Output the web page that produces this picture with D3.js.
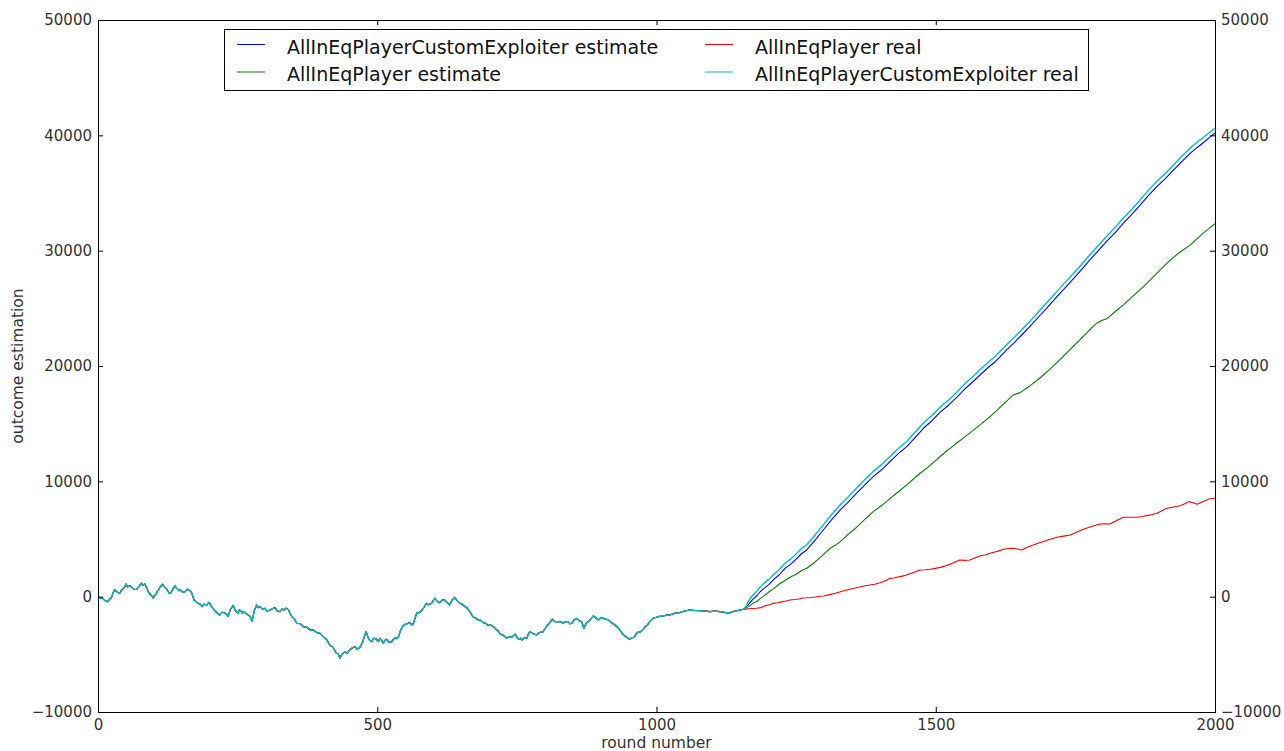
<!DOCTYPE html>
<html>
<head>
<meta charset="utf-8">
<script src="https://cdn.jsdelivr.net/npm/d3@7"></script>
<style>
  html, body { margin: 0; padding: 0; background: #fff; }
  svg { display: block; font-family: "DejaVu Sans", sans-serif; }
  .tick text { fill: #333; font-size: 15px; }
  .tick line { stroke: #000; }
</style>
</head>
<body>
<svg id="chart" width="1284" height="751"></svg>
<script>
// Common history of all four series (rounds 0..1155), [round, outcome]
const sharedPath = [
  [0,0],[4,-120],[8,-150],[13,-350],[18,-430],[21,-200],[24,-100],[27,350],[30,580],[35,380],[39,290],[42,550],[45,700],
  [48,850],[50,1100],[53,850],[55,900],[58,950],[60,815],[65,620],[69,640],[72,820],[74,900],[76,1100],[78,1160],[81,980],
  [84,1100],[86,850],[88,700],[90,420],[92,290],[96,80],[99,-140],[101,100],[104,200],[106,450],[108,580],[112,900],
  [116,1075],[118,880],[120,800],[122,720],[124,580],[127,330],[130,290],[134,650],[138,930],[140,760],[142,700],[145,520],
  [147,580],[152,380],[156,435],[160,650],[165,520],[168,300],[172,-290],[176,-450],[180,-600],[183,-650],[186,-870],
  [190,-650],[195,-720],[198,-500],[200,-580],[204,-900],[208,-1150],[213,-1400],[218,-1590],[222,-1350],[227,-1400],
  [230,-1550],[233,-1700],[237,-1100],[242,-780],[246,-1200],[251,-1450],[253,-1150],[255,-1200],[258,-1400],[260,-1300],
  [265,-1450],[269,-1590],[272,-1700],[276,-2110],[280,-1200],[284,-720],[287,-950],[290,-870],[295,-1100],[299,-1010],
  [303,-1250],[308,-1150],[312,-1050],[317,-950],[321,-1250],[326,-1300],[330,-1050],[333,-1150],[337,-1000],[341,-1150],
  [344,-1450],[347,-1730],[351,-1900],[356,-2310],[362,-2350],[368,-2600],[374,-2650],[380,-2890],[386,-2900],[392,-3120],
  [397,-3150],[403,-3470],[409,-3700],[415,-4190],[421,-4400],[427,-4910],[430,-4950],[433,-5340],[437,-5000],[442,-4770],
  [446,-4900],[451,-4620],[455,-4450],[460,-4330],[464,-4550],[469,-4400],[474,-3900],[480,-3040],[485,-3700],[490,-3900],
  [494,-3600],[499,-3700],[502,-3900],[505,-3610],[508,-3800],[511,-4050],[514,-3750],[517,-3700],[521,-3950],[526,-3900],
  [529,-3700],[532,-3530],[535,-3650],[538,-3470],[542,-2900],[547,-2450],[553,-2350],[559,-2250],[562,-2450],[565,-2310],
  [568,-1800],[571,-1390],[575,-1400],[580,-1160],[584,-900],[588,-580],[592,-700],[597,-580],[600,-350],[603,-140],
  [607,-400],[612,-520],[616,-300],[621,-290],[625,-500],[629,-720],[634,-300],[639,-60],[643,-350],[648,-580],[652,-650],
  [657,-870],[660,-950],[663,-1100],[667,-1400],[671,-1730],[676,-1850],[681,-2020],[685,-2050],[690,-2250],[694,-2300],
  [699,-2500],[703,-2450],[708,-2600],[711,-2750],[714,-2890],[717,-3000],[720,-3240],[726,-3350],[732,-3610],[736,-3450],
  [741,-3530],[744,-3400],[747,-3240],[750,-3500],[753,-3700],[756,-3600],[759,-3760],[764,-3550],[768,-3610],[770,-3300],
  [773,-3030],[779,-3200],[785,-3320],[791,-3100],[797,-3030],[800,-2800],[803,-2600],[808,-2300],[814,-1960],[817,-2150],
  [821,-2170],[827,-2150],[833,-2310],[837,-2150],[842,-2170],[845,-2350],[848,-2310],[852,-2050],[857,-1880],[862,-2100],
  [866,-2170],[868,-2450],[870,-2740],[874,-2300],[878,-2170],[883,-1900],[887,-1670],[892,-1850],[896,-2020],[900,-1850],
  [905,-1880],[910,-1950],[914,-2020],[918,-2200],[923,-2370],[927,-2500],[932,-2740],[936,-3000],[941,-3320],[946,-3500],
  [952,-3700],[956,-3550],[960,-3530],[964,-3200],[968,-3030],[971,-3050],[975,-2890],[980,-2600],[984,-2450],[988,-2150],
  [991,-2020],[995,-1850],[1000,-1790],[1006,-1700],[1012,-1680],[1018,-1600],[1024,-1590],[1032,-1450],[1041,-1390],
  [1050,-1250],[1060,-1160],[1069,-1200],[1078,-1220],[1087,-1250],[1096,-1300],[1105,-1250],[1114,-1300],[1121,-1350],
  [1129,-1440],[1136,-1300],[1144,-1220],[1150,-1150],[1155,-1100]
];

// Per-series continuation after round 1155
const exploiterEstimateTail = [
  [1165,-650],[1172,-250],[1180,100],[1186,450],[1192,700],[1201,1050],[1210,1500],[1220,1900],[1230,2450],[1240,2800],
  [1250,3250],[1259,3700],[1269,4050],[1284,4900],[1299,5800],[1314,6700],[1329,7520],[1343,8200],[1358,8950],[1373,9700],
  [1388,10410],[1403,11000],[1418,11700],[1433,12400],[1448,13010],[1463,13800],[1478,14600],[1493,15250],[1508,16000],
  [1523,16600],[1538,17300],[1553,18050],[1568,18700],[1582,19350],[1597,20000],[1606,20350],[1615,20800],[1627,21400],
  [1642,22100],[1657,22840],[1672,23600],[1687,24400],[1702,25200],[1717,26020],[1732,26800],[1747,27600],[1761,28350],
  [1776,29200],[1791,30000],[1806,30800],[1821,31550],[1836,32380],[1851,33150],[1866,33950],[1881,34800],[1896,35560],
  [1911,36250],[1926,37000],[1941,37750],[1956,38460],[1968,38950],[1980,39400],[1990,39800],[2000,40200]
];
const eqPlayerEstimateTail = [
  [1165,-850],[1172,-600],[1180,-400],[1186,-150],[1192,50],[1201,400],[1210,700],[1220,1100],[1230,1400],[1240,1700],
  [1250,1950],[1259,2250],[1269,2460],[1281,2900],[1293,3380],[1302,3800],[1311,4200],[1320,4450],[1329,4770],[1343,5400],
  [1358,6000],[1373,6700],[1388,7370],[1403,7900],[1418,8500],[1433,9100],[1448,9690],[1460,10200],[1472,10700],
  [1484,11150],[1496,11650],[1508,12150],[1520,12650],[1528,12950],[1537,13300],[1552,13850],[1568,14460],[1582,15000],
  [1597,15610],[1606,16000],[1615,16420],[1627,16950],[1639,17490],[1651,17690],[1668,18250],[1686,18940],[1704,19700],
  [1722,20530],[1740,21400],[1758,22260],[1773,23000],[1788,23710],[1797,23950],[1806,24090],[1821,24700],[1836,25300],
  [1854,26100],[1872,26890],[1893,27900],[1914,28920],[1935,29800],[1956,30500],[1967,31000],[1979,31520],[1990,31950],
  [2000,32330]
];
const eqPlayerRealTail = [
  [1165,-1050],[1179,-1010],[1187,-950],[1194,-800],[1202,-700],[1209,-580],[1217,-530],[1224,-450],[1232,-380],[1239,-290],
  [1247,-250],[1255,-200],[1262,-120],[1270,-100],[1278,-70],[1285,-30],[1292,30],[1299,60],[1310,180],[1320,300],
  [1331,450],[1341,580],[1350,680],[1360,800],[1371,920],[1382,1010],[1391,1080],[1400,1200],[1409,1350],[1418,1590],
  [1425,1620],[1432,1700],[1440,1780],[1448,1880],[1460,2100],[1472,2310],[1481,2330],[1490,2380],[1499,2450],[1508,2540],
  [1516,2650],[1525,2800],[1534,2980],[1543,3180],[1552,3150],[1561,3180],[1570,3350],[1579,3530],[1588,3620],[1597,3760],
  [1606,3880],[1615,3990],[1621,4110],[1628,4150],[1636,4200],[1645,4150],[1654,4050],[1662,4250],[1670,4400],[1678,4550],
  [1686,4680],[1701,4920],[1717,5150],[1729,5250],[1741,5350],[1752,5580],[1764,5840],[1779,6080],[1794,6300],[1803,6320],
  [1812,6300],[1824,6600],[1836,6890],[1848,6880],[1860,6890],[1870,6950],[1880,7050],[1888,7130],[1896,7230],[1905,7450],
  [1914,7670],[1926,7780],[1938,7890],[1946,8050],[1953,8240],[1961,8150],[1968,8010],[1979,8250],[1989,8470],[2000,8560]
];
const exploiterRealTail = [
  [1160,-900],[1165,-350],[1172,100],[1180,500],[1186,850],[1192,1150],[1201,1500],[1210,1950],[1220,2350],[1230,2900],
  [1240,3250],[1250,3700],[1259,4150],[1269,4500],[1284,5350],[1299,6250],[1314,7150],[1329,7970],[1343,8650],[1358,9400],
  [1373,10150],[1388,10860],[1403,11450],[1418,12150],[1433,12850],[1448,13460],[1463,14250],[1478,15050],[1493,15700],
  [1508,16450],[1523,17050],[1538,17750],[1553,18500],[1568,19150],[1582,19800],[1597,20450],[1606,20800],[1615,21250],
  [1627,21850],[1642,22550],[1657,23290],[1672,24050],[1687,24850],[1702,25650],[1717,26470],[1732,27250],[1747,28050],
  [1761,28800],[1776,29650],[1791,30450],[1806,31250],[1821,32000],[1836,32830],[1851,33600],[1866,34400],[1881,35250],
  [1896,36010],[1911,36700],[1926,37450],[1941,38200],[1956,38910],[1968,39400],[1980,39850],[1990,40250],[2000,40640]
];

const seriesNames = [
  "AllInEqPlayerCustomExploiter estimate",
  "AllInEqPlayer estimate",
  "AllInEqPlayer real",
  "AllInEqPlayerCustomExploiter real"
];
const seriesColors = ["#0000ff", "#008000", "#ff0000", "#00bfbf"];
const seriesWidths = [1.1, 1.1, 1.1, 1.4];
const seriesTails = [exploiterEstimateTail, eqPlayerEstimateTail, eqPlayerRealTail, exploiterRealTail];

const xTicks = [0, 500, 1000, 1500, 2000];
const yTicks = [-10000, 0, 10000, 20000, 30000, 40000, 50000];
const xLabel = "round number";
const yLabel = "outcome estimation";

// Layout
const plot = { left: 98, right: 1215, top: 20, bottom: 712 };
const svg = d3.select("#chart");

const x = d3.scaleLinear().domain([0, 2000]).range([plot.left, plot.right]);
const y = d3.scaleLinear().domain([-10000, 50000]).range([plot.bottom, plot.top]);

// Series lines
const line = d3.line().x(d => x(d[0])).y(d => y(d[1]));
svg.append("clipPath").attr("id", "plotclip")
  .append("rect").attr("x", plot.left).attr("y", plot.top)
  .attr("width", plot.right - plot.left).attr("height", plot.bottom - plot.top);

const lines = svg.append("g").attr("clip-path", "url(#plotclip)");
seriesTails.forEach((tail, i) => {
  lines.append("path")
    .datum(sharedPath.concat(tail))
    .attr("fill", "none")
    .attr("stroke", seriesColors[i])
    .attr("stroke-width", seriesWidths[i])
    .attr("stroke-linejoin", "round")
    .attr("d", line);
});

// Axes with inward ticks on all four sides
const fmt = d3.format("d");
svg.append("g").attr("transform", `translate(0,${plot.bottom})`)
  .call(d3.axisBottom(x).tickValues(xTicks).tickFormat(fmt).tickSizeInner(-5).tickSizeOuter(0).tickPadding(7));
svg.append("g").attr("transform", `translate(0,${plot.top})`)
  .call(d3.axisTop(x).tickValues(xTicks).tickFormat("").tickSizeInner(-5).tickSizeOuter(0));
svg.append("g").attr("transform", `translate(${plot.left},0)`)
  .call(d3.axisLeft(y).tickValues(yTicks).tickFormat(fmt).tickSizeInner(-5).tickSizeOuter(0).tickPadding(6));
svg.append("g").attr("transform", `translate(${plot.right},0)`)
  .call(d3.axisRight(y).tickValues(yTicks).tickFormat(fmt).tickSizeInner(-5).tickSizeOuter(0).tickPadding(6));
svg.selectAll(".domain").remove();
svg.selectAll(".tick text").attr("font-family", "DejaVu Sans").attr("font-size", 15);

// Frame
svg.append("rect")
  .attr("x", plot.left).attr("y", plot.top)
  .attr("width", plot.right - plot.left).attr("height", plot.bottom - plot.top)
  .attr("fill", "none").attr("stroke", "#000").attr("stroke-width", 1)
  .attr("shape-rendering", "crispEdges");

// Axis titles
svg.append("text")
  .attr("x", (plot.left + plot.right) / 2).attr("y", 748)
  .attr("text-anchor", "middle").attr("font-size", 15.5).attr("fill", "#333")
  .text(xLabel);
svg.append("text")
  .attr("transform", `translate(23,${(plot.top + plot.bottom) / 2}) rotate(-90)`)
  .attr("text-anchor", "middle").attr("font-size", 15.5).attr("fill", "#333")
  .text(yLabel);

// Legend (two columns, filled column by column)
const legend = svg.append("g");
legend.append("rect")
  .attr("x", 224.5).attr("y", 29.5).attr("width", 864).attr("height", 61)
  .attr("fill", "#fff").attr("stroke", "#000").attr("stroke-width", 1);
const colX = [237, 705];
const rowY = [44.5, 72];
seriesNames.forEach((name, i) => {
  const c = Math.floor(i / 2), r = i % 2;
  legend.append("line")
    .attr("x1", colX[c]).attr("x2", colX[c] + 28)
    .attr("y1", rowY[r]).attr("y2", rowY[r])
    .attr("stroke", seriesColors[i]).attr("stroke-width", 1);
  legend.append("text")
    .attr("x", colX[c] + 50).attr("y", rowY[r] + 9)
    .attr("font-size", 19).attr("fill", "#111")
    .text(name);
});
</script>
</body>
</html>
